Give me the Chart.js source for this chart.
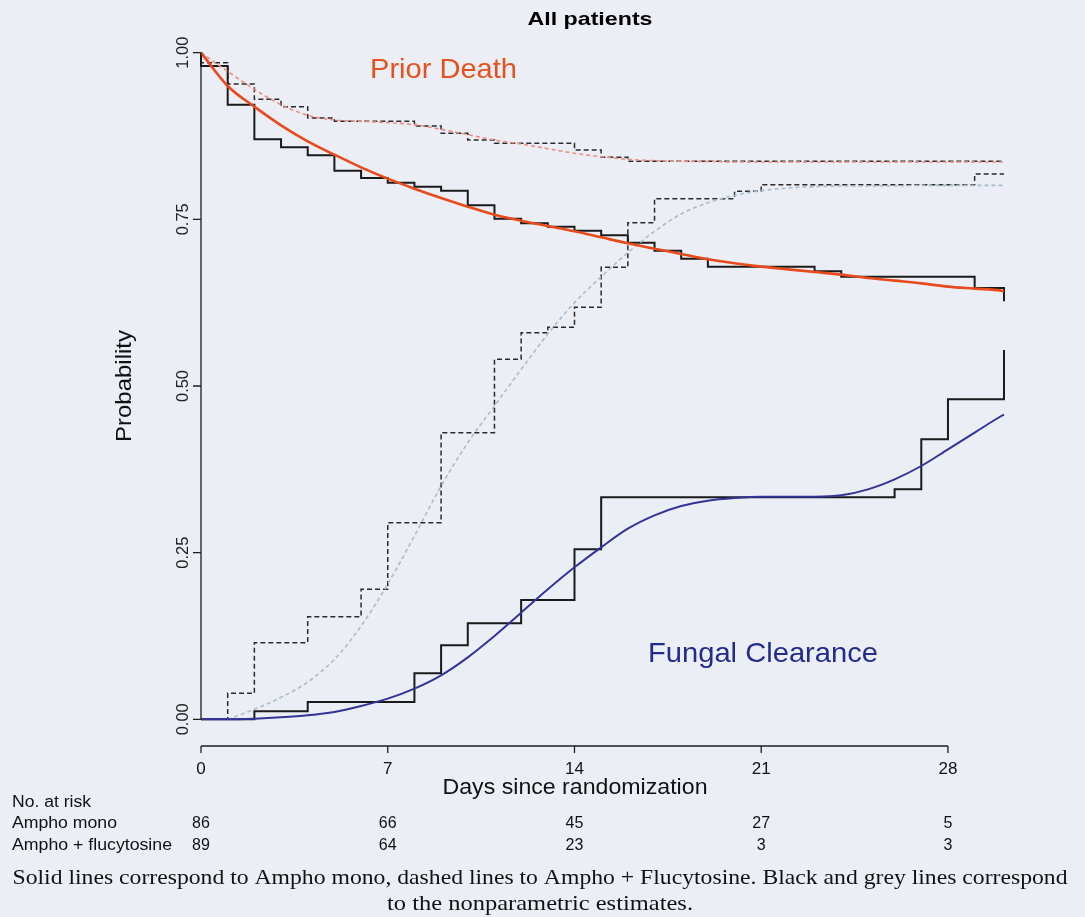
<!DOCTYPE html>
<html>
<head>
<meta charset="utf-8">
<script src="https://cdn.jsdelivr.net/npm/chart.js@4.4.1/dist/chart.umd.min.js"></script>
<style>
  html, body { margin: 0; padding: 0; background: #eceef5; }
  canvas { display: block; }
</style>
</head>
<body>
<canvas id="km" width="1085" height="917"></canvas>
<script>
// ---- Kaplan-Meier (nonparametric) estimates: step times and values ----
const deathMonoDays = [0, 0, 1, 2, 3, 4, 5, 6, 7, 8, 9, 10, 11, 12, 13, 14, 15, 16, 17, 18, 19, 23, 24, 29, 30.1, 30.1];
const deathMonoProb = [1.0, 0.980, 0.922, 0.870, 0.858, 0.846, 0.823, 0.812, 0.805, 0.799, 0.793, 0.771, 0.751, 0.744, 0.739, 0.733, 0.726, 0.715, 0.703, 0.691, 0.679, 0.672, 0.664, 0.647, 0.647, 0.627];

const deathFluDays = [0, 0, 1, 2, 3, 4, 5, 8, 9, 10, 11, 14, 15, 16, 30.1];
const deathFluProb = [1.0, 0.985, 0.953, 0.930, 0.919, 0.902, 0.897, 0.890, 0.879, 0.869, 0.864, 0.854, 0.843, 0.837, 0.837];

const clearMonoDays = [0, 2, 4, 8, 9, 10, 12, 14, 15, 26, 27, 28, 30.1, 30.1];
const clearMonoProb = [0, 0.012, 0.026, 0.069, 0.111, 0.144, 0.179, 0.255, 0.333, 0.345, 0.420, 0.480, 0.480, 0.554];

const clearFluDays = [0, 1, 2, 4, 6, 7, 9, 11, 12, 13, 14, 15, 16, 17, 20, 21, 29, 30.1];
const clearFluProb = [0, 0.039, 0.115, 0.154, 0.195, 0.295, 0.430, 0.540, 0.580, 0.588, 0.618, 0.678, 0.745, 0.781, 0.792, 0.802, 0.818, 0.818];

// ---- Parametric (smooth) estimates, evaluated at each day ----
const fitDays = [0, 1, 2, 3, 4, 5, 6, 7, 8, 9, 10, 11, 12, 13, 14, 15, 16, 17, 18, 19, 20, 21, 22, 23, 24, 25, 26, 27, 28, 29, 30, 30.1];
const deathMonoFit = [1.0, 0.950, 0.919, 0.891, 0.867, 0.847, 0.828, 0.811, 0.796, 0.782, 0.769, 0.757, 0.748, 0.740, 0.732, 0.723, 0.714, 0.706, 0.698, 0.690, 0.684, 0.679, 0.675, 0.671, 0.667, 0.662, 0.658, 0.654, 0.649, 0.646, 0.643, 0.642];
const deathFluFit  = [1.0, 0.972, 0.945, 0.922, 0.906, 0.899, 0.897, 0.895, 0.892, 0.885, 0.877, 0.869, 0.863, 0.856, 0.849, 0.844, 0.840, 0.838, 0.837, 0.837, 0.836, 0.836, 0.836, 0.836, 0.836, 0.836, 0.836, 0.836, 0.836, 0.836, 0.836, 0.836];
const clearMonoFit = [0, 0, 0.001, 0.003, 0.006, 0.011, 0.020, 0.031, 0.046, 0.066, 0.093, 0.125, 0.160, 0.195, 0.228, 0.258, 0.286, 0.306, 0.320, 0.328, 0.332, 0.334, 0.334, 0.334, 0.336, 0.345, 0.360, 0.380, 0.405, 0.430, 0.455, 0.457];
const clearFluFitDays = [1, 2, 3, 4, 5, 6, 7, 8, 9, 10, 11, 12, 13, 14, 15, 16, 17, 18, 19, 20, 21, 22, 23, 24, 25, 26, 27, 28, 29, 30, 30.1];
const clearFluFit  = [0, 0.015, 0.033, 0.056, 0.090, 0.140, 0.203, 0.275, 0.350, 0.415, 0.470, 0.525, 0.578, 0.625, 0.664, 0.700, 0.732, 0.758, 0.775, 0.786, 0.793, 0.797, 0.799, 0.800, 0.800, 0.800, 0.801, 0.801, 0.801, 0.801, 0.801];

// ---- Axes and risk table ----
const xTicks = [0, 7, 14, 21, 28];
const yTicks = [0, 0.25, 0.5, 0.75, 1.0];
const yTickLabels = ['0.00', '0.25', '0.50', '0.75', '1.00'];
const riskDays = [0, 7, 14, 21, 28];
const riskMono = [86, 66, 45, 27, 5];
const riskFlu  = [89, 64, 23, 3, 3];

const SANS = "'Liberation Sans', Arial, Helvetica, sans-serif";
const SERIF = "'Liberation Serif', 'Times New Roman', serif";

function pts(xs, ys) { return xs.map((x, i) => ({ x: x, y: ys[i] })); }

// Draws text, optionally squeezed/stretched horizontally to a given width.
function label(ctx, s, x, y, opts) {
  ctx.save();
  ctx.font = opts.font;
  ctx.fillStyle = opts.color || '#111';
  ctx.textBaseline = 'alphabetic';
  ctx.textAlign = opts.align || 'left';
  ctx.translate(x, y);
  if (opts.rot) ctx.rotate(opts.rot);
  if (opts.width) {
    const w = ctx.measureText(s).width;
    ctx.scale(opts.width / w, 1);
  }
  ctx.fillText(s, 0, 0);
  ctx.restore();
}

const decorations = {
  id: 'decorations',
  afterDraw(chart) {
    const ctx = chart.ctx;
    const xs = chart.scales.x, ys = chart.scales.y;
    const axisY = 746;

    ctx.save();
    ctx.strokeStyle = '#1e1e1e';
    ctx.lineWidth = 1.3;
    // y axis
    const yx = xs.getPixelForValue(0);
    ctx.beginPath();
    ctx.moveTo(yx, ys.getPixelForValue(0));
    ctx.lineTo(yx, ys.getPixelForValue(1));
    yTicks.forEach(v => {
      const p = ys.getPixelForValue(v);
      ctx.moveTo(yx, p); ctx.lineTo(yx - 8, p);
    });
    // x axis
    ctx.moveTo(xs.getPixelForValue(xTicks[0]), axisY);
    ctx.lineTo(xs.getPixelForValue(xTicks[xTicks.length - 1]), axisY);
    xTicks.forEach(v => {
      const p = xs.getPixelForValue(v);
      ctx.moveTo(p, axisY); ctx.lineTo(p, axisY + 7);
    });
    ctx.stroke();
    ctx.restore();

    // tick labels
    xTicks.forEach(v => {
      label(ctx, String(v), xs.getPixelForValue(v), 774, { font: `17px ${SANS}`, align: 'center', color: '#111' });
    });
    yTicks.forEach((v, i) => {
      label(ctx, yTickLabels[i], 188, ys.getPixelForValue(v), { font: `17px ${SANS}`, align: 'center', rot: -Math.PI / 2, width: 32, color: '#222' });
    });

    // titles
    label(ctx, 'All patients', 590, 25, { font: `bold 19px ${SANS}`, align: 'center', width: 125, color: '#000' });
    label(ctx, 'Probability', 131, 386, { font: `22px ${SANS}`, align: 'center', rot: -Math.PI / 2, width: 112, color: '#111' });
    label(ctx, 'Days since randomization', 575, 794, { font: `22px ${SANS}`, align: 'center', width: 265, color: '#111' });
    label(ctx, 'Prior Death', 370, 78, { font: `28px ${SANS}`, width: 147, color: '#e4531f' });
    label(ctx, 'Fungal Clearance', 648, 662, { font: `28px ${SANS}`, width: 230, color: '#232b8c' });

    // number at risk
    label(ctx, 'No. at risk', 12, 807, { font: `16px ${SANS}`, width: 79, color: '#111' });
    label(ctx, 'Ampho mono', 12, 828, { font: `16px ${SANS}`, width: 105, color: '#111' });
    label(ctx, 'Ampho + flucytosine', 12, 850, { font: `16px ${SANS}`, width: 160, color: '#111' });
    riskDays.forEach((d, i) => {
      const px = xs.getPixelForValue(d);
      label(ctx, String(riskMono[i]), px, 828, { font: `16px ${SANS}`, align: 'center', color: '#111' });
      label(ctx, String(riskFlu[i]), px, 850, { font: `16px ${SANS}`, align: 'center', color: '#111' });
    });

    // caption
    label(ctx, 'Solid lines correspond to Ampho mono, dashed lines to Ampho + Flucytosine. Black and grey lines correspond',
      540, 884, { font: `21px ${SERIF}`, align: 'center', width: 1055, color: '#111' });
    label(ctx, 'to the nonparametric estimates.', 540, 910, { font: `21px ${SERIF}`, align: 'center', width: 306, color: '#111' });
  }
};

// 'before': each value holds from its own day until the next step
const stepBase = { stepped: 'before', pointRadius: 0, fill: false, order: 2 };
const fitBase = { cubicInterpolationMode: 'monotone', pointRadius: 0, fill: false, order: 1 };

new Chart(document.getElementById('km'), {
  type: 'line',
  data: {
    datasets: [
      { ...fitBase, label: 'Death (mono), parametric', data: pts(fitDays, deathMonoFit), borderColor: '#e94a1c', borderWidth: 2.6, order: 0 },
      { ...fitBase, label: 'Death (+flu), parametric', data: pts(fitDays, deathFluFit), borderColor: '#ee8f86', borderWidth: 1.6, borderDash: [4, 3] },
      { ...fitBase, label: 'Clearance (mono), parametric', data: pts(fitDays, clearMonoFit), borderColor: '#33339a', borderWidth: 2, order: 0 },
      { ...fitBase, label: 'Clearance (+flu), parametric', data: pts(clearFluFitDays, clearFluFit), borderColor: '#a9bccc', borderWidth: 1.6, borderDash: [4, 3] },
      { ...stepBase, label: 'Death (mono)', data: pts(deathMonoDays, deathMonoProb), borderColor: '#1a1a1a', borderWidth: 2 },
      { ...stepBase, label: 'Death (+flu)', data: pts(deathFluDays, deathFluProb), borderColor: '#2a2a2a', borderWidth: 1.5, borderDash: [5, 3] },
      { ...stepBase, label: 'Clearance (mono)', data: pts(clearMonoDays, clearMonoProb), borderColor: '#1a1a1a', borderWidth: 2 },
      { ...stepBase, label: 'Clearance (+flu)', data: pts(clearFluDays, clearFluProb), borderColor: '#2a2a2a', borderWidth: 1.5, borderDash: [5, 3] }
    ]
  },
  options: {
    responsive: false,
    animation: false,
    layout: { padding: { left: 169, right: 49, top: 26, bottom: 171 } },
    plugins: { legend: { display: false }, tooltip: { enabled: false } },
    scales: {
      x: { type: 'linear', min: -1.2, max: 31.3, display: false },
      y: { type: 'linear', min: -0.04, max: 1.04, display: false }
    }
  },
  plugins: [decorations]
});
</script>
</body>
</html>
